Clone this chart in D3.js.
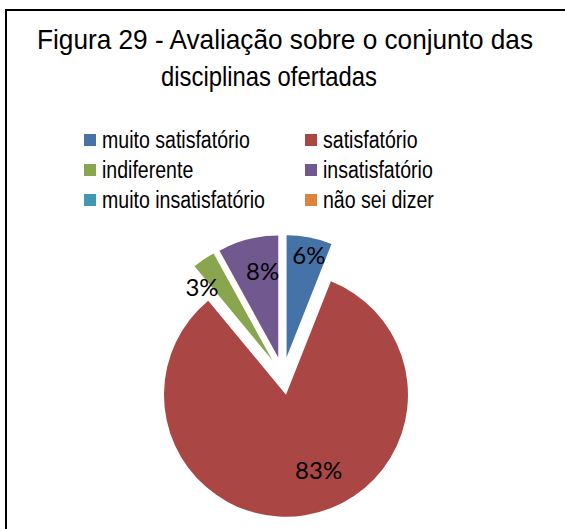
<!DOCTYPE html>
<html>
<head>
<meta charset="utf-8">
<script src="https://cdn.jsdelivr.net/npm/d3@7"></script>
<style>
  body { margin: 0; background: #fff; }
  svg { display: block; }
</style>
</head>
<body>
<div class="gv-chart"></div>
<script>
// data
var categories = ["muito satisfatório", "satisfatório", "indiferente", "insatisfatório", "muito insatisfatório", "não sei dizer"];
var values = [6, 83, 3, 8, 0, 0];
var colors = ["#4572A7", "#AA4643", "#89A54E", "#71588F", "#4198AF", "#DB843D"];
var titleLines = ["Figura 29 - Avaliação sobre o conjunto das", "disciplinas ofertadas"];

var width = 565, height = 529;
var cx = 283, cy = 376, radius = 122, explode = 19;
var narrow = 0.85; // fake "Arial Narrow" by squeezing Liberation Sans

// title line layout: centre x and squeezed width
var titleX = [285, 269];
var titleW = [496, 216];

// label placement (radius factor, angle nudge in degrees) - excel "best fit"
var labelRadius = [0.85, 0.68, 0.83, 0.72, 0.7, 0.7];
var labelNudge = [1.6, -14.2, -9.8, 4.1, 0, 0];

var svg = d3.select(".gv-chart").append("svg")
    .attr("width", width)
    .attr("height", height);

svg.append("rect")
    .attr("x", 6).attr("y", 10)
    .attr("width", 600).attr("height", 600)
    .attr("fill", "#fff")
    .attr("stroke", "#000")
    .attr("stroke-width", 2);

function squeeze(sel) {
  sel.each(function() {
    var len = this.getComputedTextLength();
    d3.select(this)
      .attr("textLength", len * narrow)
      .attr("lengthAdjust", "spacingAndGlyphs");
  });
}

// title
svg.append("g").selectAll("text")
    .data(titleLines)
    .enter().append("text")
      .attr("x", function(d, i) { return titleX[i]; })
      .attr("y", function(d, i) { return 49 + i * 37; })
      .attr("text-anchor", "middle")
      .attr("textLength", function(d, i) { return titleW[i]; })
      .attr("lengthAdjust", "spacingAndGlyphs")
      .style("font-family", "'Liberation Sans', Arial, sans-serif")
      .style("font-size", "28px")
      .attr("fill", "#000")
      .text(function(d) { return d; });

// legend
var legend = svg.append("g").selectAll("g")
    .data(categories)
    .enter().append("g")
      .attr("transform", function(d, i) {
        return "translate(" + (84 + (i % 2) * 221) + "," + (134 + Math.floor(i / 2) * 30) + ")";
      });

legend.append("rect")
    .attr("width", 12).attr("height", 12)
    .attr("fill", function(d, i) { return colors[i]; });

legend.append("text")
    .attr("x", 18)
    .attr("y", 14)
    .style("font-family", "'Liberation Sans', Arial, sans-serif")
    .style("font-size", "23px")
    .attr("fill", "#000")
    .text(function(d) { return d; })
    .call(squeeze);

// pie
var pie = d3.pie().sort(null).value(function(d) { return d; });
var arcs = pie(values).map(function(a, i) { a.index = i; return a; }).filter(function(a) { return a.value > 0; });

var arc = d3.arc().innerRadius(0).outerRadius(radius);

var slice = svg.append("g")
    .attr("transform", "translate(" + cx + "," + cy + ")")
  .selectAll("g")
    .data(arcs)
    .enter().append("g")
      .attr("transform", function(d) {
        var mid = (d.startAngle + d.endAngle) / 2;
        return "translate(" + (Math.sin(mid) * explode) + "," + (-Math.cos(mid) * explode) + ")";
      });

slice.append("path")
    .attr("d", arc)
    .attr("fill", function(d) { return colors[d.index]; });

slice.append("text")
    .attr("transform", function(d) {
      var a = (d.startAngle + d.endAngle) / 2 + labelNudge[d.index] * Math.PI / 180;
      var r = radius * labelRadius[d.index];
      return "translate(" + (Math.sin(a) * r) + "," + (-Math.cos(a) * r) + ")";
    })
    .attr("text-anchor", "middle")
    .attr("dy", "0.35em")
    .style("font-family", "Lato, 'Open Sans', sans-serif")
    .style("font-size", "24px")
    .attr("fill", "#000")
    .text(function(d) { return d3.format(".0%")(d.value / 100); });
</script>
</body>
</html>
